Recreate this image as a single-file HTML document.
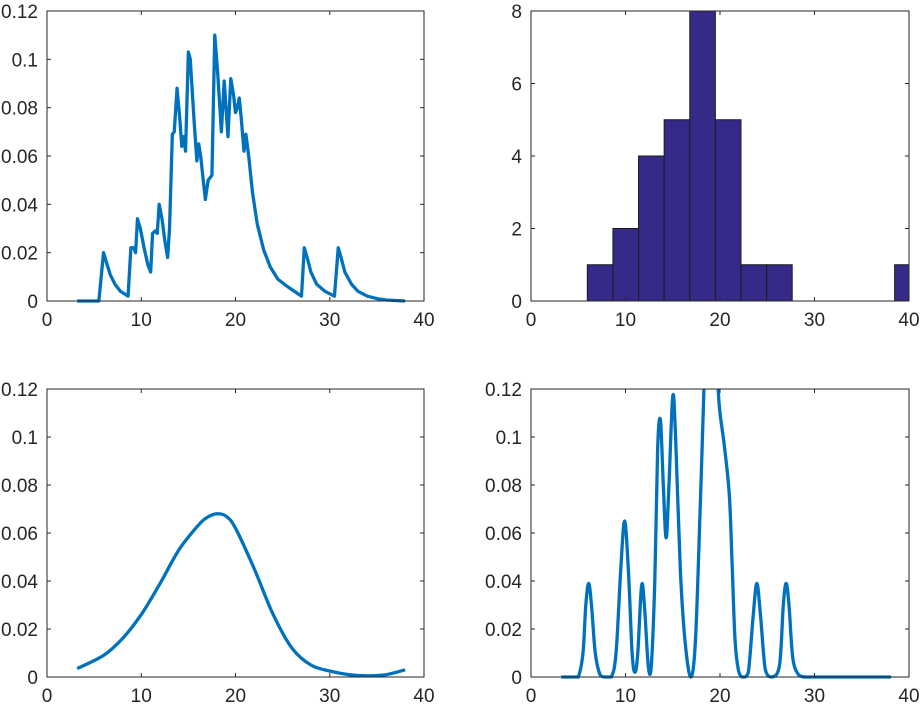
<!DOCTYPE html>
<html><head><meta charset="utf-8"><style>
body{margin:0;background:#fff;}
svg text{font-family:"Liberation Sans",Arial,sans-serif;font-size:19px;fill:#262626;}
</style></head><body>
<svg id="fig" width="920" height="706" viewBox="0 0 920 706" xmlns="http://www.w3.org/2000/svg"></svg>
<script>
// ---- data ----
const xTicks = [0,10,20,30,40];
const yTicksDensity = [0,0.02,0.04,0.06,0.08,0.1,0.12];
const yTickLabelsDensity = ["0","0.02","0.04","0.06","0.08","0.1","0.12"];
const yTicksCount = [0,2,4,6,8];
const yTickLabelsCount = ["0","2","4","6","8"];

const empiricalX = [3.2,5.5,6.0,6.3,6.7,7.2,7.8,8.6,8.9,9.2,9.4,9.6,9.9,10.3,10.7,11.0,11.2,11.5,11.7,11.9,12.2,12.5,12.8,13.0,13.3,13.5,13.8,14.1,14.3,14.5,14.7,15.0,15.2,15.6,15.9,16.1,16.3,16.8,17.1,17.5,17.8,18.1,18.5,18.8,19.2,19.5,19.8,20.0,20.2,20.4,20.6,20.9,21.1,21.4,21.8,22.3,23,23.7,24.5,25.5,27,27.3,27.6,28,28.6,29.5,30.5,30.9,31.2,31.6,32.3,33,34,35,36,38];
const empiricalY = [0,0,0.020,0.016,0.011,0.007,0.004,0.002,0.022,0.022,0.020,0.034,0.030,0.022,0.015,0.012,0.028,0.029,0.028,0.040,0.034,0.025,0.018,0.030,0.069,0.070,0.088,0.075,0.064,0.068,0.062,0.103,0.100,0.075,0.058,0.065,0.060,0.042,0.050,0.052,0.110,0.095,0.070,0.091,0.068,0.092,0.085,0.078,0.080,0.084,0.076,0.062,0.069,0.060,0.045,0.032,0.021,0.014,0.009,0.006,0.002,0.022,0.018,0.012,0.007,0.004,0.002,0.022,0.018,0.012,0.007,0.004,0.002,0.001,0.0004,0];

const binStart = 5.96;
const binWidth = 2.71;
const binCounts = [1,2,4,5,8,5,1,1,0,0,0,0,1];

const smoothX = [3.2,6,8,10,12,14,16,17,18,19,20,22,24,26,28,30,32,34,36,38];
const smoothY = [0.0035,0.009,0.016,0.026,0.039,0.053,0.063,0.0665,0.068,0.067,0.062,0.045,0.026,0.012,0.005,0.0025,0.001,0.0005,0.001,0.003];

const kdeX = [3.2,4.5,5,5.5,5.8,6.1,6.4,6.8,7.3,7.8,8.5,9,9.5,9.9,10.3,10.7,11,11.3,11.7,12,12.4,12.7,13.1,13.4,13.7,14.0,14.3,14.6,15.0,15.3,15.8,16.3,16.9,17.4,17.9,18.3,18.5,19.5,19.8,20.0,20.5,21,21.3,21.6,22,22.5,23,23.5,23.9,24.3,24.8,25.5,26.3,26.7,27.0,27.3,27.7,28.3,29,30,37,38];
const kdeY = [0,0,0,0.01,0.03,0.039,0.03,0.01,0.001,0,0,0.01,0.045,0.065,0.045,0.01,0.002,0.01,0.038,0.03,0.005,0.003,0.04,0.095,0.107,0.08,0.058,0.08,0.117,0.10,0.045,0.015,0,0.015,0.07,0.12,0.14,0.14,0.12,0.11,0.095,0.075,0.045,0.015,0.002,0,0.002,0.025,0.039,0.025,0.003,0,0.005,0.03,0.039,0.03,0.008,0.001,0,0,0,0];

// ---- drawing ----
const NS="http://www.w3.org/2000/svg";
const svg=document.getElementById('fig');
function mk(tag,attrs,parent){const e=document.createElementNS(NS,tag);for(const k in attrs)e.setAttribute(k,attrs[k]);(parent||svg).appendChild(e);return e;}

function makeAxes(id,L,R,T,B,ymax,yt,ytl){
  const g=mk('g',{});
  
  
  const sx=v=>L+(v/40)*(R-L);
  const sy=v=>B-(v/ymax)*(B-T);
  const cp=mk('clipPath',{id:'clip-'+id},g);
  mk('rect',{x:L-2,y:T,width:R-L+4,height:B-T+2},cp);
  return {g,sx,sy,L,R,T,B,yt,ytl,id};
}
function decorate(a){
  const {g,sx,sy,L,R,T,B}=a;
  const frame=mk('rect',{x:L,y:T,width:R-L,height:B-T,fill:'none',stroke:'#262626','stroke-width':1},g);
  
  
  xTicks.forEach(v=>{
    const x=sx(v);
    mk('line',{x1:x,y1:B,x2:x,y2:B-4,stroke:'#262626'},g);
    mk('line',{x1:x,y1:T,x2:x,y2:T+4,stroke:'#262626'},g);
    const t=mk('text',{x:x,y:B+25,'text-anchor':'middle'},g);
    t.textContent=String(v);
    
    
  });
  a.yt.forEach((v,i)=>{
    const y=sy(v);
    mk('line',{x1:L,y1:y,x2:L+4,y2:y,stroke:'#262626'},g);
    mk('line',{x1:R,y1:y,x2:R-4,y2:y,stroke:'#262626'},g);
    const t=mk('text',{x:L-9,y:y+7,'text-anchor':'end'},g);
    t.textContent=a.ytl[i];
    
    
  });
}
function line(a,xs,ys,name){
  const d=xs.map((x,i)=>(i?'L':'M')+a.sx(x).toFixed(2)+','+a.sy(ys[i]).toFixed(2)).join(' ');
  const p=mk('path',{d:d,fill:'none',stroke:'#0072bd','stroke-width':3.3,'stroke-linejoin':'round','clip-path':'url(#clip-'+a.id+')'},a.g);
  
  
}
function smoothLine(a,xs,ys,name){
  const P=xs.map((x,i)=>[a.sx(x),a.sy(ys[i])]);
  let d='M'+P[0][0]+','+P[0][1];
  for(let i=0;i<P.length-1;i++){
    const p0=P[i-1]||P[i],p1=P[i],p2=P[i+1],p3=P[i+2]||P[i+1];
    const c1=[p1[0]+(p2[0]-p0[0])/6,Math.min(a.B,p1[1]+(p2[1]-p0[1])/6)];
    const c2=[p2[0]-(p3[0]-p1[0])/6,Math.min(a.B,p2[1]-(p3[1]-p1[1])/6)];
    d+=' C'+c1.join(',')+' '+c2.join(',')+' '+p2.join(',');
  }
  const p=mk('path',{d:d,fill:'none',stroke:'#0072bd','stroke-width':3.3,'clip-path':'url(#clip-'+a.id+')'},a.g);
  
  
}

const a1=makeAxes('empirical-density-axes',47,424,11,301,0.12,yTicksDensity,yTickLabelsDensity);
line(a1,empiricalX,empiricalY,'empirical-density-line');
decorate(a1);

const a2=makeAxes('histogram-axes',531,909,11,301,8,yTicksCount,yTickLabelsCount);
binCounts.forEach((c,i)=>{
  if(c<=0)return;
  const x0=binStart+i*binWidth,x1=Math.min(40,x0+binWidth);
  const r=mk('rect',{x:a2.sx(x0),y:a2.sy(c),width:a2.sx(x1)-a2.sx(x0),height:a2.sy(0)-a2.sy(c),fill:'#352a87',stroke:'#1a1a1a','stroke-width':1},a2.g);
  
  
});
decorate(a2);

const a3=makeAxes('smooth-density-axes',47,424,389,677,0.12,yTicksDensity,yTickLabelsDensity);
smoothLine(a3,smoothX,smoothY,'smooth-density-line');
decorate(a3);

const a4=makeAxes('kde-axes',531,909,389,677,0.12,yTicksDensity,yTickLabelsDensity);
smoothLine(a4,kdeX,kdeY,'kde-line');
decorate(a4);
</script>
</body></html>
